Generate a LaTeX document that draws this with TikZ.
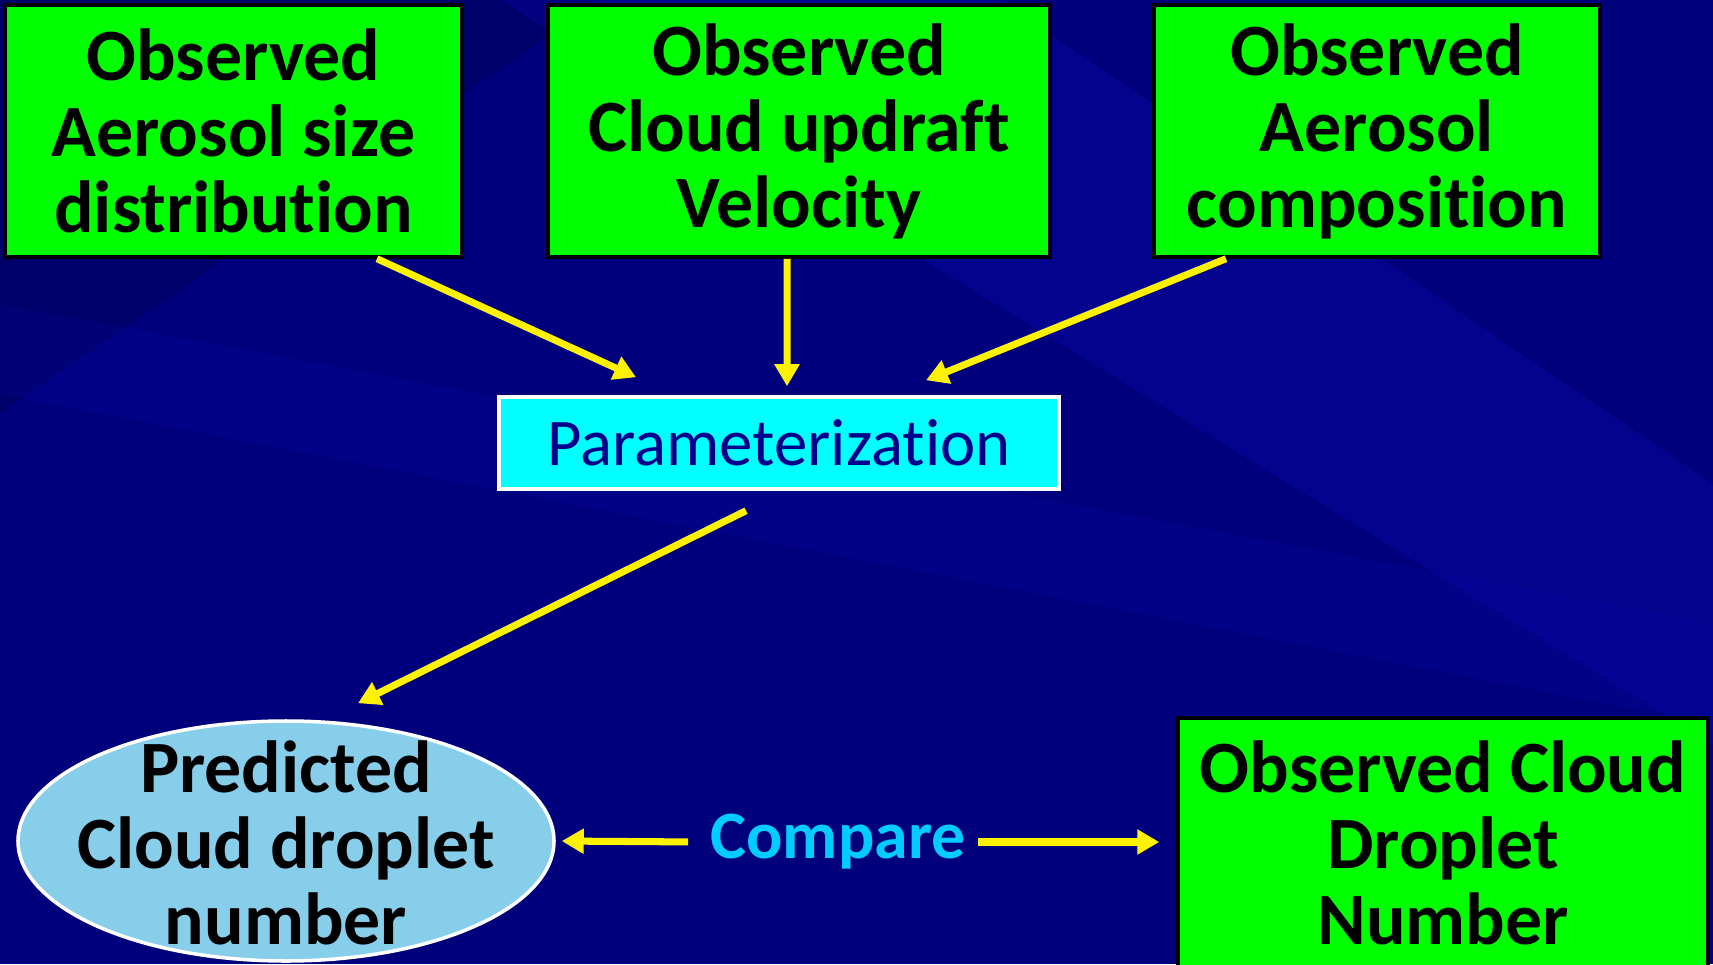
\documentclass[tikz,border=0pt]{standalone}
\usepackage{fontspec}
\setmainfont{Carlito}[Ligatures=NoCommon]
\usetikzlibrary{shapes.geometric,arrows.meta}

\definecolor{slideblue}{RGB}{0,0,125}
\definecolor{streakblue}{RGB}{10,10,175}
\definecolor{boxgreen}{RGB}{0,255,0}
\definecolor{paramcyan}{RGB}{0,255,255}
\definecolor{paramtext}{RGB}{0,0,140}
\definecolor{ovalblue}{RGB}{135,206,235}
\definecolor{comparecyan}{RGB}{0,204,255}

\tikzset{
  obsbox/.style={draw=black, line width=1pt, fill=boxgreen, align=center,
    inner sep=0pt, font=\fontsize{21}{21.6}\selectfont\bfseries},
  parambox/.style={draw=white, line width=1pt, fill=paramcyan,
    minimum width=5.6cm, minimum height=0.92cm, inner sep=0pt,
    text=paramtext, font=\fontsize{19}{20}\selectfont},
  predoval/.style={ellipse, draw=white, line width=1pt, fill=ovalblue,
    minimum width=5.36cm, minimum height=2.4cm, inner sep=0pt},
  flow/.style={yellow, line width=2pt, -{Triangle[length=0.22cm,width=0.24cm]}},
}

\begin{document}
\begin{tikzpicture}
    % Slide background with a few lighter streaks
    \fill[slideblue] (0,0) rectangle (17.13,9.64);
    \fill[black, opacity=0.15] (0,9.64) -- (6,9.64) -- (0,5.5) -- cycle;
    \fill[streakblue, opacity=0.35] (5,9.64) -- (10,9.64) -- (17.13,4.8) -- (17.13,2.2) -- cycle;
    \fill[streakblue, opacity=0.2] (0,6.6) -- (0,5.7) -- (17.13,2.4) -- (17.13,3.4) -- cycle;
    \useasboundingbox (0,0) rectangle (17.13,9.64);

    % Observed inputs
    \node[obsbox, minimum width=4.57cm, minimum height=2.52cm] (obsSize) at (2.335,8.33)
        {Observed\\Aerosol size\\distribution};
    \node[obsbox, minimum width=5.02cm, minimum height=2.52cm] (obsUpdraft) at (7.99,8.33)
        {Observed\\Cloud updraft\\Velocity};
    \node[obsbox, minimum width=4.46cm, minimum height=2.52cm] (obsComp) at (13.77,8.33)
        {Observed\\Aerosol\\composition};

    \node[parambox] (param) at (7.79,5.21) {Parameterization};

    % Prediction and observation to compare
    \node[predoval] (pred) at (2.86,1.23) {};
    \node[align=center, font=\fontsize{21}{21.6}\selectfont\bfseries] (predText) at (2.86,1.21)
        {Predicted\\Cloud droplet\\number};
    \node[obsbox, minimum width=5.30cm, minimum height=2.5cm] (obsDrop) at (14.43,1.21)
        {Observed Cloud\\Droplet\\Number};
    \node[text=comparecyan, font=\fontsize{19.3}{20}\selectfont\bfseries] (cmp) at (8.38,1.22) {Compare};

    % Arrows
    \draw[flow] ([xshift=1.435cm]obsSize.south) -- ([xshift=-1.43cm,yshift=0.18cm]param.north);
    \draw[flow] ([xshift=-0.12cm]obsUpdraft.south) -- ([xshift=0.08cm,yshift=0.09cm]param.north);
    \draw[flow] ([xshift=-1.51cm]obsComp.south) -- ([xshift=1.47cm,yshift=0.15cm]param.north);
    \draw[flow] ([xshift=-0.33cm,yshift=-0.2cm]param.south) -- ([xshift=0.72cm,yshift=0.16cm]pred.north);
    \draw[flow, shorten <=0.1cm, shorten >=0.06cm] (cmp.west) -- (pred.east);
    \draw[flow, shorten >=0.17cm] (cmp.east) -- (cmp.east -| obsDrop.west);
\end{tikzpicture}
\end{document}
